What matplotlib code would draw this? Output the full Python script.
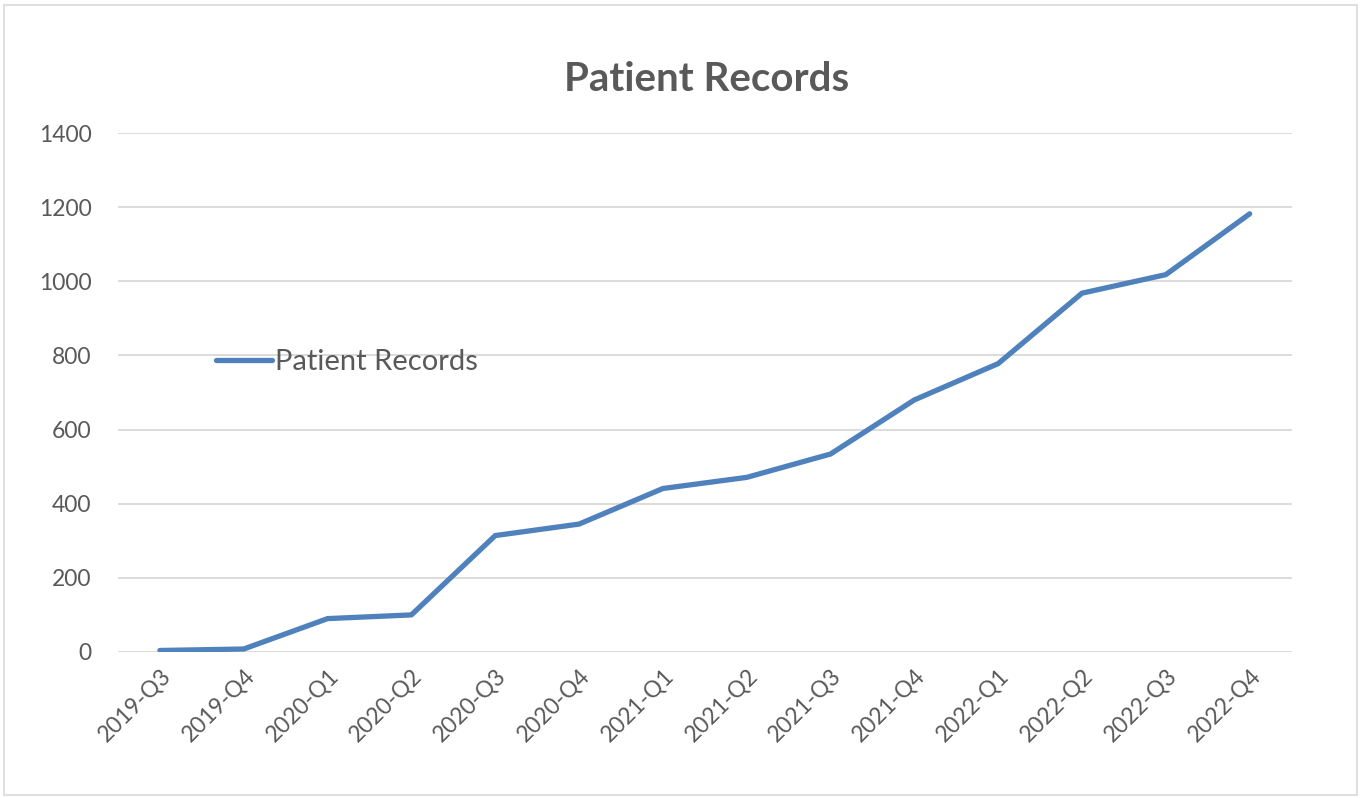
import matplotlib.pyplot as plt
from matplotlib.patches import Rectangle

# --- DATA ---
quarters = ['2019-Q3', '2019-Q4', '2020-Q1', '2020-Q2', '2020-Q3', '2020-Q4',
            '2021-Q1', '2021-Q2', '2021-Q3', '2021-Q4', '2022-Q1', '2022-Q2',
            '2022-Q3', '2022-Q4']
records = [4, 8, 90, 100, 314, 345, 441, 471, 534, 680, 778, 968, 1018, 1182]
y_ticks = [0, 200, 400, 600, 800, 1000, 1200, 1400]

TEXT = '#595959'
LINE = '#4F81BD'
GRID = '#D9D9D9'

plt.rcParams['font.family'] = ['Lato', 'DejaVu Sans']

fig = plt.figure(figsize=(13.61, 7.98), dpi=100)
ax = fig.add_axes([0.0867, 0.183, 0.8623, 0.6503])

x = list(range(len(quarters)))
ax.plot(x, records, color=LINE, lw=3.8, solid_capstyle='round',
        solid_joinstyle='round', label='Patient Records', zorder=3)

ax.set_xlim(-0.5, len(quarters) - 0.5)
ax.set_ylim(0, 1400)
ax.set_yticks(y_ticks)
ax.set_xticks(x)
ax.set_xticklabels(quarters, rotation=45, ha='right', rotation_mode='anchor')
ax.tick_params(axis='both', length=0, labelsize=16.5, colors=TEXT)
ax.tick_params(axis='x', pad=9)
ax.tick_params(axis='y', pad=19)
ax.grid(axis='y', color=GRID, lw=1.3)
ax.set_axisbelow(True)
for s in ax.spines.values():
    s.set_visible(False)

fig.text(0.519, 0.901, 'Patient Records', ha='center', va='center',
         fontsize=29, fontweight='bold', color=TEXT)

leg = ax.legend(loc='center left', bbox_to_anchor=(0.159, 0.546),
                bbox_transform=fig.transFigure, frameon=False,
                fontsize=21, handlelength=1.9, handletextpad=0.12,
                borderaxespad=0, borderpad=0)
for t in leg.get_texts():
    t.set_color(TEXT)

# light border round the whole chart
fig.patches.append(Rectangle((0.003, 0.004), 0.994, 0.99, transform=fig.transFigure,
                             fill=False, edgecolor='#D9D9D9', lw=1.2))

fig.savefig('out.png', dpi=100)
